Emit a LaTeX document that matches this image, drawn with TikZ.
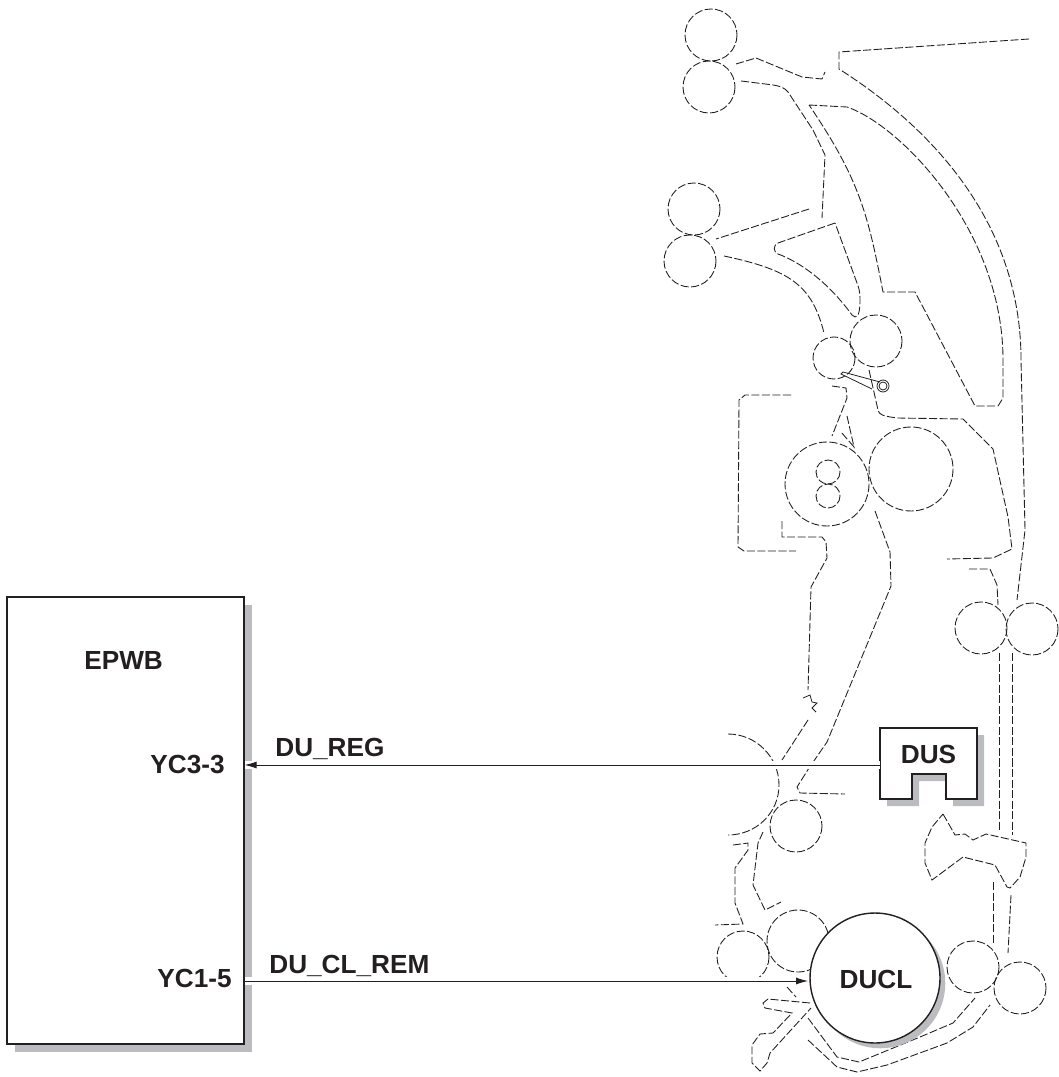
\documentclass[tikz,border=0pt]{standalone}
\usepackage{fontspec}
\setmainfont{Liberation Sans}
\usetikzlibrary{arrows.meta,shadows}

\definecolor{ink}{HTML}{231F20}
\definecolor{shadegray}{HTML}{BBBCBF}

\begin{document}
\begin{tikzpicture}[
x=0.02cm, y=-0.02cm,
paper/.style={ink, line width=0.5pt, dash pattern=on 4.6pt off 1.4pt},
tag/.style={font=\fontsize{14.9}{16}\selectfont\bfseries, text=ink, inner sep=0pt},
box/.style={draw=ink, fill=white, line width=0.8pt, inner sep=0pt},
shade7/.style={drop shadow={shadow xshift=4.4pt, shadow yshift=-4.4pt, fill=shadegray, opacity=1}},
shade5/.style={drop shadow={shadow xshift=3pt, shadow yshift=-3pt, fill=shadegray, opacity=1}},
halo/.style={white, line width=5pt},
wire/.style={ink, line width=0.5pt, -{Latex[length=6.8pt, width=4pt]}}
]
\useasboundingbox (0,0) rectangle (1058,1077);

% rollers
\draw[paper] (711,35) circle (26);
\draw[paper] (709,87) circle (26);
\draw[paper] (694,209) circle (26);
\draw[paper] (690,261) circle (26);
\draw[paper] (834,358) circle (21);
\draw[paper] (876,341) circle (26);
\draw[paper] (827,484) circle (42);
\draw[paper] (911,469) circle (42);
\draw[paper] (828,472) circle (12);
\draw[paper] (828,496) circle (12);
\draw[paper] (981,628) circle (26);
\draw[paper] (1032,629) circle (26);
\draw[paper] (796,826) circle (26);
\draw[paper] (743,957) circle (26);
\draw[paper] (798,941) circle (31);
\draw[paper] (973,967) circle (26);
\draw[paper] (1020,988) circle (26);

% upper guides
\draw[paper] (736,64) -- (756,58) -- (802,77) -- (822,79) -- (825,72);
\draw[paper] (1029,39) -- (839,52) -- (839,69)
  .. controls (935,130) and (1021,225) .. (1021,360)
  -- (1025,530) -- (1017,600);
\draw[paper] (741,81) -- (773,85) .. controls (780,86) and (785,88) .. (788,92) -- (813,130) -- (825,155) -- (822,218);
\draw[paper] (809,105) -- (847,107)
  .. controls (900,125) and (1003,230) .. (1003,360)
  -- (1003,398) -- (998,406) -- (975,406) -- (915,292) -- (883,292)
  .. controls (868,215) and (860,180) .. (809,105);
\draw[paper] (809,209) -- (716,239);
\draw[paper] (835,223) -- (778,243) .. controls (773,245) and (773,252) .. (778,254)
  .. controls (800,262) and (828,282) .. (852,315) .. controls (856,319) and (860,318) .. (860,300)
  .. controls (860,292) and (859,288) .. (857,283) -- cycle;
\draw[paper] (724,256) .. controls (790,270) and (812,285) .. (824,333);

% pulley and lever
\draw[ink, line width=0.45pt] (883,386) circle (6);
\draw[ink, line width=0.45pt] (883,386) circle (4);
\draw[ink, line width=0.45pt] (880,382) -- (843,372) -- (841,374) -- (843,375) -- (872,389);

% fixing section
\draw[paper] (832,386) -- (846,388) -- (847,398) -- (832,436);
\draw[paper] (847,416) -- (854,447) -- (841,432);
\draw[paper] (869,370) -- (878,410) .. controls (879,415) and (883,416) .. (897,418) -- (963,419) -- (993,449) -- (1008,517) -- (1012,549) -- (993,558) -- (947,559);
\draw[paper] (791,395) -- (745,395) -- (739,400) -- (738,547) -- (744,551) -- (796,551);
\draw[paper] (782,521) -- (782,537) -- (822,537) -- (826,542) -- (827,558) -- (811,587) -- (808,690);
\draw[paper] (969,569) -- (990,569) -- (997,585) -- (998,605);

% duplex conveying section
\draw[ink, line width=0.45pt] (803,698) -- (810,695) -- (812,702) -- (817,703) -- (812,708) -- (816,712);
\draw[paper] (808,720) -- (782,760);
\draw[paper] (875,511) -- (890,552) -- (891,586) -- (827,742) -- (809,768) -- (797,787) -- (800,793) -- (845,794);
\draw[paper] (728,734) .. controls (756,734) and (779,757) .. (779,785) .. controls (779,813) and (756,835) .. (728,835);
\draw[paper] (999,653) -- (999,832);
\draw[paper] (1012,653) -- (1012,835);
\draw[paper] (943,814) -- (955,835) -- (965,834) -- (973,840) -- (986,834) -- (1026,843) -- (1026,857) -- (1020,877) -- (1010,888) -- (1007,887) -- (995,865) -- (963,857) -- (932,880) -- (925,863) -- (925,843) -- (932,827) -- cycle;
\draw[paper] (993,882) -- (993,945);
\draw[paper] (1011,895) -- (1008,953);
\draw[paper] (733,845) -- (748,843) -- (748,850) -- (735,868) -- (735,903) -- (743,924) -- (715,925);
\draw[paper] (763,832) -- (758,843) -- (753,885) -- (765,910) -- (781,902);
\draw[paper] (787,987) -- (796,997);
\draw[paper] (810,1003) -- (768,999) -- (763,1003) -- (765,1008) -- (792,1013) -- (773,1033) -- (760,1034) -- (752,1045) -- (752,1063) -- (760,1071) -- (767,1063) -- (770,1053) -- (811,1008);
\draw[paper] (808,1018) -- (837,1057) -- (859,1062) -- (920,1037) -- (953,1023) -- (975,998);
\draw[paper] (808,1040) -- (837,1067) -- (857,1072) -- (887,1065) -- (947,1043) -- (973,1027) -- (990,1005);

% parts with a signal
\node[box, shade7, minimum width=4.74cm, minimum height=8.94cm] (epwb) at (125.5,820.5) {};
\node[box, shade5, circle, minimum size=2.6cm] (ducl) at (875,978) {};

\fill[shadegray] (887,735) -- (984,735) -- (984,806) -- (953,806) -- (953,781) -- (919,781) -- (919,806) -- (887,806) -- cycle;
\filldraw[box] (880,728) -- (977,728) -- (977,799) -- (946,799) -- (946,774) -- (912,774) -- (912,799) -- (880,799) -- cycle;
\coordinate (dusport) at (880,765);
\coordinate (duclport) at (808,981);

\draw[halo] (epwb.east |- dusport) -- (dusport);
\draw[halo] (epwb.east |- duclport) -- (duclport);
\draw[wire] (dusport) -- (epwb.east |- dusport);
\draw[wire] (epwb.east |- duclport) -- (duclport);

\node[tag, anchor=base west] (epwbtag) at (84,669) {EPWB};
\node[tag, anchor=base east] (yc33) at (225,773) {YC3-3};
\node[tag, anchor=base east] (yc15) at (232,987) {YC1-5};
\node[tag, anchor=base west] (regtag) at (275,756) {DU\_REG};
\node[tag, anchor=base west] (remtag) at (269,973) {DU\_CL\_REM};
\node[tag, anchor=base] (dustag) at (928.5,763) {DUS};
\node[tag, anchor=base] (ducltag) at (876,988) {DUCL};

\end{tikzpicture}
\end{document}
